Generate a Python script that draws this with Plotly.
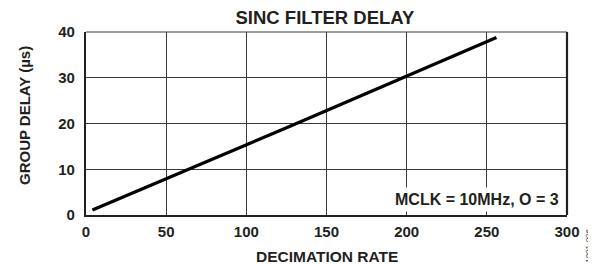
import plotly.graph_objects as go

decimation = [4, 8, 16, 32, 64, 128, 256]
delay_us = [1.1, 1.7, 2.9, 5.3, 10.0, 19.5, 38.8]
x_ticks = [0, 50, 100, 150, 200, 250, 300]
y_ticks = [0, 10, 20, 30, 40]

FONT = "Liberation Sans, Arial, sans-serif"
INK = "#231f20"
GRID = "#3c3c3c"

fig = go.Figure()
fig.add_trace(go.Scatter(x=decimation, y=delay_us, mode="lines",
                         line=dict(color="black", width=3.2), showlegend=False))

fig.update_layout(
    width=588, height=256,
    margin=dict(l=78, r=29, t=24, b=49),
    paper_bgcolor="white", plot_bgcolor="white",
    font=dict(family=FONT, color=INK),
    title=dict(text="<b>SINC FILTER DELAY</b>", x=0.539, xanchor="center",
               y=0.963, yanchor="middle", font=dict(size=18.5, family=FONT, color=INK)),
    xaxis=dict(range=[0, 300], tickvals=x_ticks, ticktext=[f"<b>{v}</b>" for v in x_ticks],
               showgrid=True, gridcolor=GRID, gridwidth=1, zeroline=False,
               showline=True, linecolor=INK, linewidth=2.2, automargin=False,
               ticks="", ticklabelstandoff=2, tickfont=dict(size=15, family=FONT, color=INK)),
    yaxis=dict(range=[0, 40], tickvals=y_ticks, ticktext=[f"<b>{v}</b>" for v in y_ticks],
               showgrid=True, gridcolor=GRID, gridwidth=1, zeroline=False,
               showline=True, linecolor=INK, linewidth=2.2, automargin=False,
               ticks="", ticklabelstandoff=6, tickfont=dict(size=15, family=FONT, color=INK)),
)

fig.add_shape(type="line", xref="paper", yref="paper", x0=1, x1=1, y0=0, y1=1,
              line=dict(color=INK, width=2.2))
fig.add_shape(type="line", xref="paper", yref="paper", x0=0, x1=1, y0=1, y1=1,
              line=dict(color=GRID, width=1.2))

# axis titles
fig.add_annotation(text="<b>DECIMATION RATE</b>", xref="paper", yref="paper",
                   x=0.5, y=-0.2295, xanchor="center", yanchor="middle", showarrow=False,
                   font=dict(size=15.5, family=FONT, color=INK))
fig.add_annotation(text="<b>GROUP DELAY (µs)</b>", xref="paper", yref="paper",
                   x=-0.129, y=0.546, xanchor="center", yanchor="middle", showarrow=False,
                   textangle=-90, font=dict(size=15, family=FONT, color=INK))

fig.add_annotation(text="<b>MCLK = 10MHz, O = 3</b>", xref="x", yref="y",
                   x=297.5, y=3.3, xanchor="right", yanchor="middle", showarrow=False,
                   bgcolor="white", borderpad=3,
                   font=dict(size=16, family=FONT, color=INK))

fig.add_annotation(text="1801-006", xref="paper", yref="paper", x=1.043, y=-0.17,
                   xanchor="center", yanchor="middle", showarrow=False, textangle=-90,
                   font=dict(size=8, family=FONT, color="#333333"))

fig.write_html("out.html")
